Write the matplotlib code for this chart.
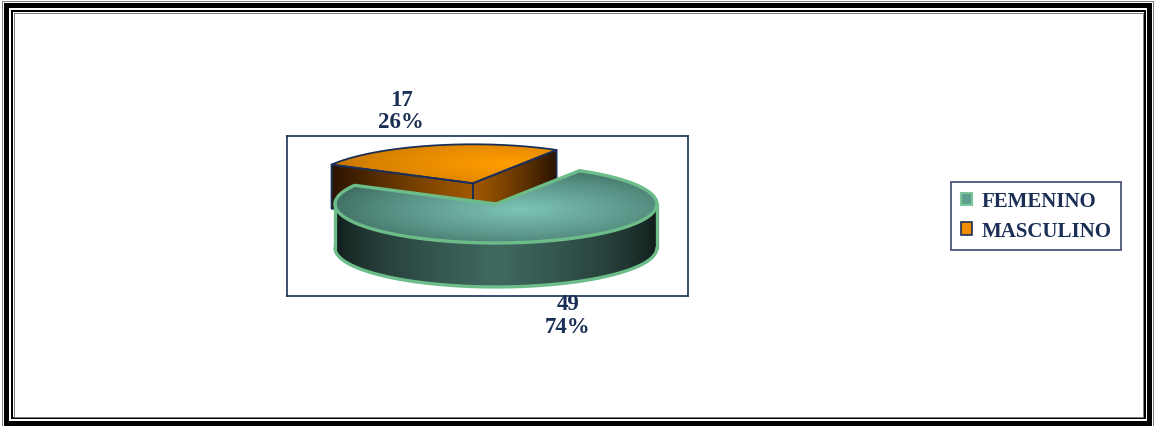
import numpy as np
import matplotlib
matplotlib.use("Agg")
import matplotlib.pyplot as plt
from matplotlib.patches import Polygon, Rectangle, Patch
from matplotlib.colors import to_rgb

# datos
categories = ["FEMENINO", "MASCULINO"]
counts = [49, 17]
explode = [0.0, 0.55]

W, H = 1154, 427
NAVY = "#1b2f56"
GREEN_EDGE = "#6dbd8b"
FONT = "Liberation Serif"

fig = plt.figure(figsize=(W / 100, H / 100), dpi=100)

# marco doble alrededor de la figura
bg = fig.add_axes([0, 0, 1, 1])
bg.set_xlim(0, W)
bg.set_ylim(H, 0)
bg.axis("off")
px = 72 / 100
for (l, t, r, b), lw, c in [((1.5, 1.5, 1153, 426.5), 1, "#808080"),
                            ((6.2, 6.2, 1149.2, 424), 5, "black"),
                            ((11.5, 11.5, 1145, 419), 2, "black"),
                            ((13.5, 13.5, 1142.7, 417.5), 1, "#808080")]:
    bg.add_patch(Rectangle((l, t), r - l, b - t, fill=False, lw=lw * px, ec=c))

# area del grafico
ax = fig.add_axes([287 / W, (H - 297) / H, 401 / W, 160 / H])
ax.set_facecolor("none")
for s in ax.spines.values():
    s.set_color(NAVY)
    s.set_linewidth(1.2)
ax.set_xticks([])
ax.set_yticks([])

KY = 0.242     # aplastamiento de la elipse
DEPTH = 0.273  # grosor del disco


def mix(c1, c2, s):
    c1 = np.array(to_rgb(c1))
    c2 = np.array(to_rgb(c2))
    s = np.clip(s, 0, 1)[..., None]
    return c1 * (1 - s) + c2 * s


def fill_gradient(verts, colfunc, z):
    verts = np.asarray(verts)
    patch = Polygon(verts, closed=True, fc="none", ec="none", zorder=z)
    ax.add_patch(patch)
    x0, y0 = verts.min(axis=0)
    x1, y1 = verts.max(axis=0)
    X, Y = np.meshgrid(np.linspace(x0, x1, 300), np.linspace(y0, y1, 200))
    im = ax.imshow(colfunc(X, Y), extent=(x0, x1, y0, y1), origin="lower",
                   interpolation="bilinear", zorder=z, aspect="auto")
    im.set_clip_path(patch)


def arc(cx, cy, a, b, n=200):
    th = np.radians(np.linspace(a, b, n))
    return np.column_stack([cx + np.cos(th), cy + KY * np.sin(th)])


def front_ranges(lo, hi):
    out = []
    for k in (-2, -1, 0, 1):
        a, b = max(lo, -180 + 360 * k), min(hi, 360 * k)
        if b > a:
            out.append((a, b))
    return out


styles = {
    "FEMENINO": dict(
        top=lambda u, v: mix("#3a665d", "#7cc4b4",
                             (1 - np.hypot((u - 0.15) / 1.25, (v + 0.15) / 1.15)) ** 0.8),
        side=lambda u, y: mix("#0e1816", "#406a61", (1 - np.abs(u)) ** 0.6),
        face=lambda r: mix("#3d675e", "#0e1816", r),
        edge=GREEN_EDGE, lw=2.4, z=5),
    "MASCULINO": dict(
        top=lambda u, v: mix("#b06800", "#ff9c00",
                             (1 - np.hypot((u - 0.2) / 1.2, (v - 0.5) / 0.9)) ** 0.6),
        side=lambda u, y: mix("#2a1300", "#8c4c00", (1 - np.abs(u)) ** 0.7),
        face=lambda r: mix("#a05800", "#2a1300", r ** 1.2),
        edge=NAVY, lw=1.3, z=2),
}

total = sum(counts)
start = 58.7
slices = []
for cat, val, ex in zip(categories, counts, explode):
    end = start - 360 * val / total
    slices.append((cat, val, ex, end, start))
    start = end

# se dibuja de atras hacia adelante
slices = sorted(slices, key=lambda s: s[2], reverse=True)

for cat, val, ex, lo, hi in slices:
    st = styles[cat]
    z = st["z"]
    mid = np.radians((lo + hi) / 2)
    cx, cy = ex * np.cos(mid), KY * ex * np.sin(mid)
    lines = []

    # caras radiales
    for ang, visible in ((hi, np.cos(np.radians(hi)) < 0), (lo, np.cos(np.radians(lo)) > 0)):
        if not visible:
            continue
        t = np.radians(ang)
        rim = (cx + np.cos(t), cy + KY * np.sin(t))
        quad = [(cx, cy), rim, (rim[0], rim[1] - DEPTH), (cx, cy - DEPTH)]
        fill_gradient(quad, lambda X, Y, t=t: st["face"]((X - cx) / np.cos(t)), z)
        lines.append(np.array(quad + [quad[0]]))

    # pared exterior visible
    for a, b in front_ranges(lo, hi):
        top = arc(cx, cy, a, b)
        bot = top[::-1] - [0, DEPTH]
        fill_gradient(np.vstack([top, bot]), lambda X, Y: st["side"](X - cx, Y), z + 0.1)
        lines.append(np.vstack([top[:1] - [0, DEPTH], top[:1]]))
        lines.append(np.vstack([top[-1:], top[-1:] - [0, DEPTH]]))
        lines.append(bot)

    # cara superior
    topface = np.vstack([[cx, cy], arc(cx, cy, lo, hi), [cx, cy]])
    fill_gradient(topface, lambda X, Y: st["top"](X - cx, (Y - cy) / KY), z + 0.2)
    lines.append(topface)

    for ln in lines:
        ax.plot(ln[:, 0], ln[:, 1], color=st["edge"], lw=st["lw"], zorder=z + 0.3,
                solid_joinstyle="round", solid_capstyle="round")

ax.set_xlim(-1.298, 1.193)
ax.set_ylim(-0.571, 0.422)

# etiquetas de datos
label_pos = {"FEMENINO": (568, 305), "MASCULINO": (401, 100)}
for cat, val in zip(categories, counts):
    x, y = label_pos[cat]
    pct = 100 * val / total
    fig.text(x / W, 1 - y / H, f"{val}", ha="center", va="center",
             fontsize=16.5, fontweight="bold", family=FONT, color=NAVY)
    fig.text(x / W, 1 - (y + 23) / H, f"{pct:.0f}%", ha="center", va="center",
             fontsize=16.5, fontweight="bold", family=FONT, color=NAVY)

# leyenda
handles = [Patch(fc="#5f9e8e", ec="#7cc79a", lw=1.5),
           Patch(fc="#f08c00", ec=NAVY, lw=1.2)]
leg = fig.legend(handles, categories, loc="center",
                 bbox_to_anchor=(1036 / W, 1 - 217 / H),
                 prop=dict(family=FONT, weight="bold", size=15),
                 fancybox=False, handlelength=0.55, handleheight=0.55,
                 handletextpad=0.45, labelspacing=0.45, borderpad=0.45,
                 borderaxespad=0)
leg.get_frame().set_edgecolor(NAVY)
leg.get_frame().set_linewidth(1.3)
for t in leg.get_texts():
    t.set_color(NAVY)

fig.savefig("out.png", dpi=100)
